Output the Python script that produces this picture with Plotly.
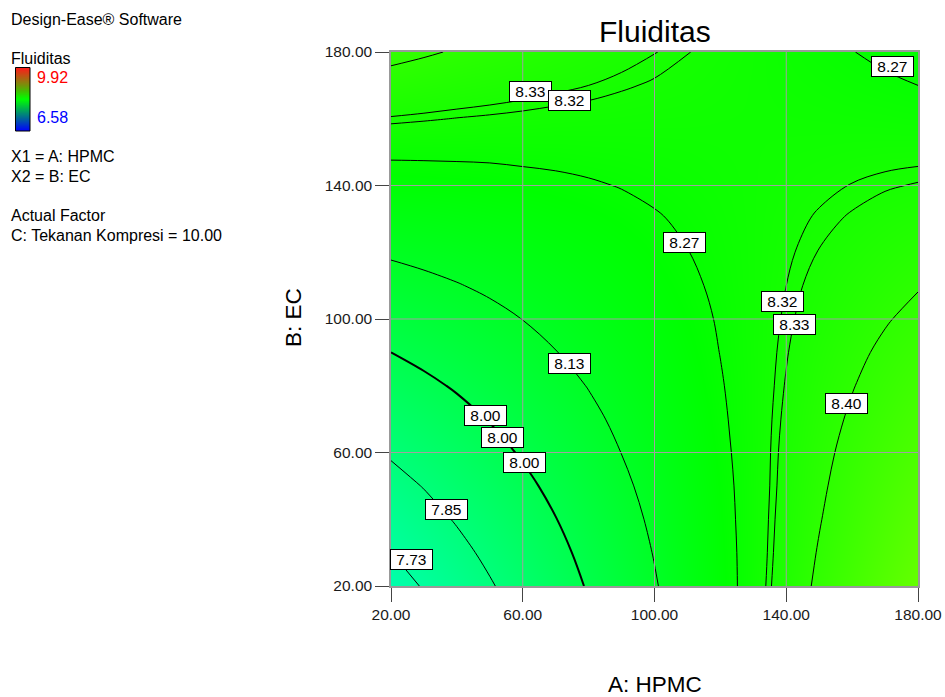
import plotly.graph_objects as go

# ---------------- data ----------------
A_VALUES = [20, 30, 40, 50, 60, 70, 80, 90, 100, 110, 120, 130, 140, 150, 160, 170, 180]   # A: HPMC
B_VALUES = [20, 30, 40, 50, 60, 70, 80, 90, 100, 110, 120, 130, 140, 150, 160, 170, 180]   # B: EC
# Fluiditas estimated on the A x B grid (rows = B, columns = A)
Z_B020 = [7.687, 7.737, 7.788, 7.841, 7.895, 7.951, 8.008, 8.065, 8.123, 8.182, 8.240, 8.298, 8.356, 8.414, 8.470, 8.526, 8.580]
Z_B030 = [7.729, 7.775, 7.822, 7.872, 7.922, 7.974, 8.027, 8.080, 8.134, 8.189, 8.243, 8.297, 8.351, 8.405, 8.457, 8.509, 8.559]
Z_B040 = [7.772, 7.814, 7.858, 7.903, 7.950, 7.998, 8.047, 8.096, 8.146, 8.197, 8.247, 8.297, 8.347, 8.396, 8.445, 8.493, 8.539]
Z_B050 = [7.816, 7.854, 7.895, 7.936, 7.979, 8.023, 8.068, 8.113, 8.159, 8.205, 8.251, 8.297, 8.343, 8.388, 8.433, 8.477, 8.519]
Z_B060 = [7.861, 7.896, 7.932, 7.970, 8.009, 8.049, 8.089, 8.131, 8.172, 8.214, 8.256, 8.298, 8.340, 8.381, 8.421, 8.461, 8.499]
Z_B070 = [7.907, 7.938, 7.971, 8.004, 8.039, 8.075, 8.111, 8.148, 8.186, 8.223, 8.261, 8.299, 8.336, 8.373, 8.409, 8.444, 8.479]
Z_B080 = [7.954, 7.981, 8.009, 8.039, 8.070, 8.101, 8.133, 8.166, 8.199, 8.233, 8.266, 8.299, 8.332, 8.365, 8.397, 8.428, 8.459]
Z_B090 = [8.000, 8.024, 8.048, 8.074, 8.100, 8.128, 8.156, 8.184, 8.213, 8.242, 8.271, 8.300, 8.328, 8.357, 8.385, 8.412, 8.438]
Z_B100 = [8.047, 8.067, 8.087, 8.109, 8.131, 8.154, 8.178, 8.202, 8.226, 8.251, 8.275, 8.300, 8.324, 8.348, 8.372, 8.395, 8.417]
Z_B110 = [8.094, 8.110, 8.126, 8.143, 8.162, 8.180, 8.200, 8.219, 8.240, 8.260, 8.280, 8.300, 8.320, 8.340, 8.359, 8.378, 8.396]
Z_B120 = [8.141, 8.153, 8.165, 8.178, 8.192, 8.207, 8.222, 8.237, 8.253, 8.269, 8.285, 8.300, 8.316, 8.331, 8.346, 8.361, 8.375]
Z_B130 = [8.188, 8.196, 8.204, 8.213, 8.222, 8.233, 8.243, 8.254, 8.266, 8.277, 8.289, 8.300, 8.312, 8.323, 8.333, 8.344, 8.354]
Z_B140 = [8.235, 8.238, 8.242, 8.247, 8.253, 8.259, 8.265, 8.272, 8.279, 8.286, 8.293, 8.300, 8.307, 8.314, 8.321, 8.327, 8.332]
Z_B150 = [8.281, 8.281, 8.281, 8.281, 8.283, 8.284, 8.287, 8.289, 8.292, 8.294, 8.297, 8.300, 8.303, 8.305, 8.308, 8.310, 8.311]
Z_B160 = [8.327, 8.323, 8.319, 8.316, 8.313, 8.310, 8.308, 8.306, 8.304, 8.303, 8.301, 8.300, 8.298, 8.297, 8.295, 8.293, 8.290]
Z_B170 = [8.373, 8.365, 8.357, 8.350, 8.343, 8.336, 8.330, 8.323, 8.317, 8.312, 8.306, 8.300, 8.294, 8.289, 8.283, 8.277, 8.270]
Z_B180 = [8.419, 8.407, 8.395, 8.384, 8.373, 8.362, 8.351, 8.341, 8.331, 8.321, 8.311, 8.301, 8.291, 8.281, 8.271, 8.261, 8.251]
Z_GRID = [Z_B020, Z_B030, Z_B040, Z_B050, Z_B060, Z_B070, Z_B080, Z_B090, Z_B100,
          Z_B110, Z_B120, Z_B130, Z_B140, Z_B150, Z_B160, Z_B170, Z_B180]

LEVELS = [7.73, 7.85, 8.00, 8.13, 8.27, 8.32, 8.33, 8.40]
X_TICKS = [20, 60, 100, 140, 180]
Y_TICKS = [20, 60, 100, 140, 180]
Z_MIN, Z_MAX = 6.58, 9.92

# ---------------- layout geometry ----------------
W, H = 945, 697
ML, MR, MT, MB = 391, 27, 52, 111
PW, PH = W - ML - MR, H - MT - MB
FONT = "Liberation Sans, Arial, sans-serif"


def pxx(x):
    return (x - ML) / PW


def pxy(y):
    return (H - MB - y) / PH


HSV_SCALE = [[0, "#0000ff"], [0.25, "#00ffff"], [0.5, "#00ff00"], [0.75, "#ffff00"], [1, "#ff0000"]]
LEGEND_SCALE = [(0.0, (0, 0, 255)), (0.5, (0, 255, 0)), (1.0, (255, 0, 0))]

fig = go.Figure()
fig.add_trace(go.Heatmap(x=A_VALUES, y=B_VALUES, z=Z_GRID, zmin=Z_MIN, zmax=Z_MAX,
                         colorscale=HSV_SCALE, zsmooth="best", showscale=False, hoverinfo="skip"))
for lv in LEVELS:
    fig.add_trace(go.Contour(x=A_VALUES, y=B_VALUES, z=Z_GRID, autocontour=False,
                             contours=dict(start=lv, end=lv, size=0.01, coloring="none", showlabels=False),
                             line=dict(color="black", width=2 if lv == 8.00 else 1, smoothing=1),
                             showscale=False, hoverinfo="skip"))

# contour label boxes: (index into LEVELS, A, B)
LABEL_POS = [(6, 62.2, 168.3), (5, 74.3, 165.6), (4, 172.4, 175.8), (4, 109.1, 122.8),
             (5, 138.8, 105.1), (6, 142.5, 98.5), (3, 74.2, 86.8), (2, 48.7, 71.2),
             (2, 53.8, 64.6), (2, 60.5, 56.9), (1, 36.7, 43.0), (0, 26.1, 27.8), (7, 158.4, 74.8)]
ann = []
for idx, a, b in LABEL_POS:
    ann.append(dict(x=a, y=b, xref="x", yref="y", text="\u00a0%.2f\u00a0" % LEVELS[idx], showarrow=False,
                    font=dict(family=FONT, size=15.5, color="black"), bgcolor="white",
                    bordercolor="black", borderwidth=1, borderpad=1))


def text_ann(txt, x, base, size, color="black", anchor="left"):
    return dict(x=pxx(x), y=pxy(base - 0.3465 * size), xref="paper", yref="paper", text=txt,
                showarrow=False, xanchor=anchor, yanchor="middle",
                font=dict(family=FONT, size=size, color=color), borderpad=0)


LEG = 16
ann += [
    text_ann("Design-Ease® Software", 9.5, 25, LEG),
    text_ann("Fluiditas", 9.5, 64, LEG),
    text_ann("%.2f" % Z_MAX, 35.5, 83.3, LEG, "#ff0000"),
    text_ann("%.2f" % Z_MIN, 35.5, 123.3, LEG, "#0000ff"),
    text_ann("X1 = A: HPMC", 9.5, 161.7, LEG),
    text_ann("X2 = B: EC", 9.5, 181.7, LEG),
    text_ann("Actual Factor", 9.5, 221, LEG),
    text_ann("C: Tekanan Kompresi = 10.00", 9.5, 240.7, LEG),
    text_ann("Fluiditas", 655, 42, 30, anchor="center"),
    text_ann("A: HPMC", 654.5, 692.3, 22.5, anchor="center"),
]
ann.append(dict(x=pxx(293), y=pxy(318), xref="paper", yref="paper", text="B: EC", showarrow=False,
                xanchor="center", yanchor="middle", textangle=-90,
                font=dict(family=FONT, size=22.5, color="black")))

shapes = []
# legend colour bar (Z_MAX at top, Z_MIN at bottom), drawn as thin strips
BAR_L, BAR_R, BAR_T, BAR_B = 15.5, 30.0, 67.5, 131.0
N = 64


def legend_color(t):
    for (t0, c0), (t1, c1) in zip(LEGEND_SCALE[:-1], LEGEND_SCALE[1:]):
        if t <= t1:
            f = (t - t0) / (t1 - t0)
            return "rgb(%d,%d,%d)" % tuple(round(c0[k] + (c1[k] - c0[k]) * f) for k in range(3))
    return "rgb(%d,%d,%d)" % LEGEND_SCALE[-1][1]


for i in range(N):
    y0 = BAR_B - (BAR_B - BAR_T) * i / N
    y1 = BAR_B - (BAR_B - BAR_T) * (i + 1) / N
    shapes.append(dict(type="rect", xref="paper", yref="paper", x0=pxx(BAR_L), x1=pxx(BAR_R),
                       y0=pxy(y0), y1=pxy(y1 - 0.3), fillcolor=legend_color((i + 0.5) / N),
                       line=dict(width=0), layer="above"))
shapes.append(dict(type="rect", xref="paper", yref="paper", x0=pxx(BAR_L), x1=pxx(BAR_R),
                   y0=pxy(BAR_B), y1=pxy(BAR_T), line=dict(color="black", width=1), layer="above"))

# grid lines drawn over the colour fill
for v in X_TICKS[1:-1]:
    shapes.append(dict(type="line", xref="x", yref="paper", x0=v, x1=v, y0=0, y1=1,
                       line=dict(color="#a0a0a0", width=1), layer="above"))
for v in Y_TICKS[1:-1]:
    shapes.append(dict(type="line", xref="paper", yref="y", x0=0, x1=1, y0=v, y1=v,
                       line=dict(color="#a0a0a0", width=1), layer="above"))

axis_common = dict(showgrid=False, zeroline=False, showline=True, linecolor="#999999", linewidth=1.5,
                   mirror=True, ticks="outside", ticklen=14, tickcolor="#444444", tickwidth=1,
                   automargin=False, fixedrange=True,
                   tickfont=dict(family=FONT, size=15.5, color="#1a1a1a"), tickformat=".2f")
fig.update_layout(
    template="none",
    width=W, height=H, margin=dict(l=ML, r=MR, t=MT, b=MB, pad=0, autoexpand=False),
    paper_bgcolor="white", plot_bgcolor="white", showlegend=False,
    xaxis=dict(range=[20, 180], tickvals=X_TICKS, **axis_common),
    yaxis=dict(range=[20, 180], tickvals=Y_TICKS, **axis_common),
    annotations=ann, shapes=shapes,
)
fig.write_html("out.html")
